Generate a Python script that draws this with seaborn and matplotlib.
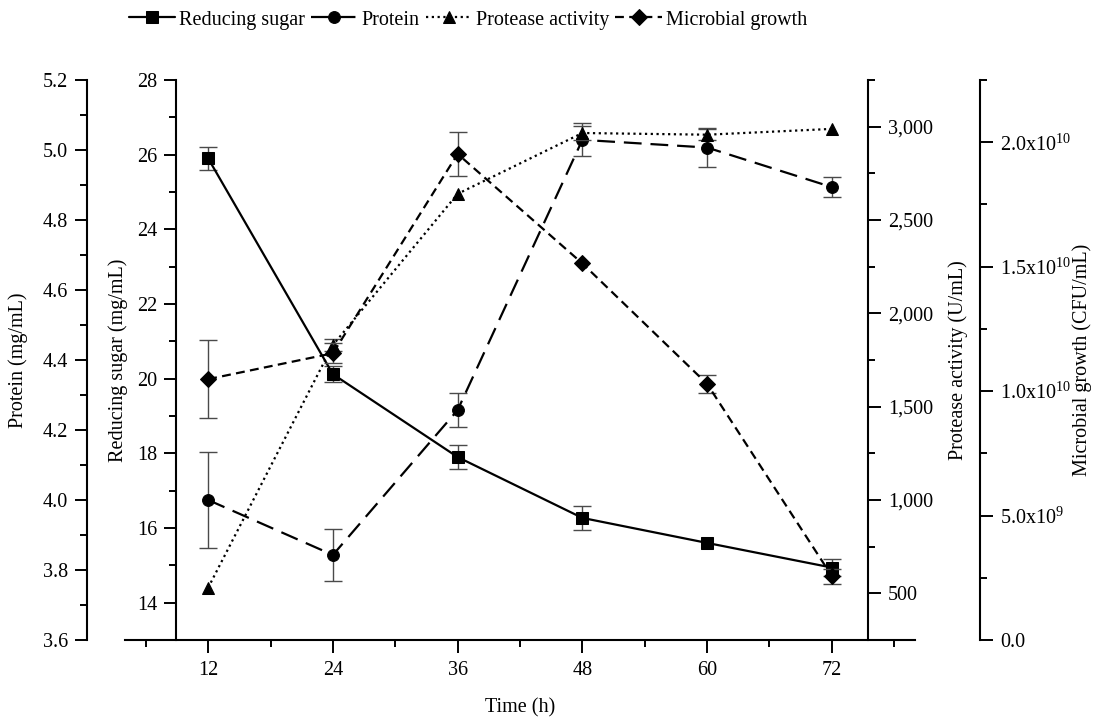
import numpy as np
import pandas as pd
import matplotlib
matplotlib.use("Agg")
import matplotlib.pyplot as plt
from matplotlib.ticker import MultipleLocator, FuncFormatter
import seaborn as sns

# Fermentation time course (mean values with standard deviations)
time_h = [12, 24, 36, 48, 60, 72]

reducing_sugar = [25.9, 20.12, 17.9, 16.27, 15.6, 14.94]
reducing_sugar_err = [0.3, 0.22, 0.32, 0.32, 0.0, 0.22]

protein = [4.0, 3.843, 4.257, 5.029, 5.007, 4.894]
protein_err = [0.137, 0.073, 0.048, 0.047, 0.055, 0.028]

protease = [530, 1830, 2640, 2966, 2957, 2988]
protease_err = [0, 30, 0, 40, 30, 0]

microbial = [1.048e10, 1.152e10, 1.953e10, 1.513e10, 1.029e10, 0.257e10]
microbial_err = [0.157e10, 0.04e10, 0.09e10, 0.0, 0.035e10, 0.03e10]

series_names = ["Reducing sugar", "Protein", "Protease activity", "Microbial growth"]

df = pd.DataFrame({
    "time": time_h,
    "sugar": reducing_sugar,
    "protein": protein,
    "protease": protease,
    "microbial": microbial,
})

sns.set_theme(style="ticks")
plt.rcParams.update({
    "font.family": ["Liberation Serif", "DejaVu Serif"],
    "mathtext.fontset": "custom",
    "mathtext.rm": "Liberation Serif",
    "font.size": 14.5,
    "axes.linewidth": 1.5,
    "axes.edgecolor": "black",
    "xtick.color": "black",
    "ytick.color": "black",
    "axes.labelcolor": "black",
    "text.color": "black",
    "xtick.major.size": 9, "ytick.major.size": 9,
    "xtick.minor.size": 5, "ytick.minor.size": 5,
    "xtick.major.width": 1.4, "ytick.major.width": 1.4,
    "xtick.minor.width": 1.4, "ytick.minor.width": 1.4,
    "xtick.labelsize": 14.5, "ytick.labelsize": 14.5,
    "axes.labelsize": 14.5,
})

W, H = 1102, 719
fig = plt.figure(figsize=(W / 100, H / 100), dpi=100)
# plot frame: x from 125 px to 915 px, y from 80 px to 640 px (from top)
left, right, top, bottom = 125, 915, 80, 640
ax = fig.add_axes([left / W, (H - bottom) / H, (right - left) / W, (bottom - top) / H])
ax_p = ax.twinx()
ax_r = ax.twinx()
ax_m = ax.twinx()


def frac(px):
    return (px - left) / (right - left)


# --- spines ---------------------------------------------------------------
for a in (ax, ax_p, ax_r, ax_m):
    for s in a.spines.values():
        s.set_visible(False)
    a.patch.set_visible(False)

ax.spines["bottom"].set_visible(True)
ax.spines["left"].set_visible(True)
ax.spines["left"].set_position(("axes", frac(176)))

ax_p.spines["left"].set_visible(True)
ax_p.spines["left"].set_position(("axes", frac(87)))
ax_p.yaxis.tick_left()
ax_p.yaxis.set_label_position("left")

ax_r.spines["right"].set_visible(True)
ax_r.spines["right"].set_position(("axes", frac(868)))

ax_m.spines["right"].set_visible(True)
ax_m.spines["right"].set_position(("axes", frac(980)))

# --- data -----------------------------------------------------------------
err_kw = dict(fmt="none", ecolor="#4a4a4a", elinewidth=1.0, capsize=6.5, capthick=1.0, zorder=1.5)


def draw(a, col, err, marker, ls, name):
    sns.lineplot(data=df, x="time", y=col, ax=a, color="black", marker=marker,
                 markersize=8.5 if marker != "D" else 8, markeredgecolor="black",
                 markerfacecolor="black", linewidth=1.6, linestyle=ls,
                 errorbar=None, legend=False, zorder=3)
    line = a.lines[-1]
    line.set_label(name)
    idx = [i for i, e in enumerate(err) if e > 0]
    a.errorbar([time_h[i] for i in idx], [df[col][i] for i in idx],
               yerr=[err[i] for i in idx], **err_kw)
    return line


h1 = draw(ax, "sugar", reducing_sugar_err, "s", "-", series_names[0])
h2 = draw(ax_p, "protein", protein_err, "o", (0, (8, 4)), series_names[1])
h3 = draw(ax_r, "protease", protease_err, "^", (0, (1, 1.6)), series_names[2])
h4 = draw(ax_m, "microbial", microbial_err, "D", (0, (4, 2.4)), series_names[3])

# --- scales ---------------------------------------------------------------
ax.set_xlim(4, 80)
ax.xaxis.set_major_locator(MultipleLocator(12))
ax.xaxis.set_minor_locator(MultipleLocator(6))
ax.set_xlabel("Time (h)")
ax.xaxis.set_label_coords(0.5, -(708 - bottom) / (bottom - top))
ax.xaxis.label.set_verticalalignment("center")
ax.tick_params(axis="x", which="both", direction="out", pad=6, top=False)

ax.set_ylim(13, 28)
ax.yaxis.set_major_locator(MultipleLocator(2))
ax.yaxis.set_minor_locator(MultipleLocator(1))
ax.set_ylabel("Reducing sugar (mg/mL)")

ax_p.set_ylim(3.6, 5.2)
ax_p.yaxis.set_major_locator(MultipleLocator(0.2))
ax_p.yaxis.set_minor_locator(MultipleLocator(0.1))
ax_p.yaxis.set_major_formatter(FuncFormatter(lambda v, p: f"{v:.1f}"))
ax_p.set_ylabel("Protein (mg/mL)")

ax_r.set_ylim(250, 3250)
ax_r.yaxis.set_major_locator(MultipleLocator(500))
ax_r.yaxis.set_minor_locator(MultipleLocator(250))
ax_r.yaxis.set_major_formatter(FuncFormatter(lambda v, p: f"{v:,.0f}"))
ax_r.set_ylabel("Protease activity (U/mL)")


def sci_label(v, pos):
    if v <= 1:
        return "0.0" if abs(v) <= 1 else ""
    exp = int(np.floor(np.log10(v) + 1e-9))
    mant = v / 10 ** exp
    return r"$\mathregular{%.1fx10^{%d}}$" % (mant, exp)


ax_m.set_ylim(0, 2.25e10)
ax_m.yaxis.set_major_locator(MultipleLocator(0.5e10))
ax_m.yaxis.set_minor_locator(MultipleLocator(0.25e10))
ax_m.yaxis.set_major_formatter(FuncFormatter(sci_label))
ax_m.yaxis.get_offset_text().set_visible(False)
ax_m.set_ylabel("Microbial growth (CFU/mL)")

for a in (ax, ax_p):
    a.tick_params(axis="y", which="both", direction="out", pad=4.5, left=True, right=False)
for a in (ax_r, ax_m):
    a.tick_params(axis="y", which="both", direction="out", pad=5.5, right=True, left=False)
for a in (ax_p, ax_r, ax_m):
    a.set_xlabel("")

# axis titles centred on fixed horizontal positions
for a, px in ((ax_p, 18), (ax, 118), (ax_r, 958), (ax_m, 1082)):
    a.yaxis.set_label_coords(frac(px), 0.5)
    a.yaxis.label.set_verticalalignment("center")
    a.yaxis.label.set_rotation_mode("anchor")

fig.legend(handles=[h1, h2, h3, h4], labels=series_names, loc="center",
           bbox_to_anchor=(468 / W, 1 - 20 / H), ncol=4, frameon=False,
           handlelength=2.3, handletextpad=0.2, columnspacing=0.3,
           borderpad=0, numpoints=1, fontsize=14.5)

fig.savefig("out.png", dpi=100)
